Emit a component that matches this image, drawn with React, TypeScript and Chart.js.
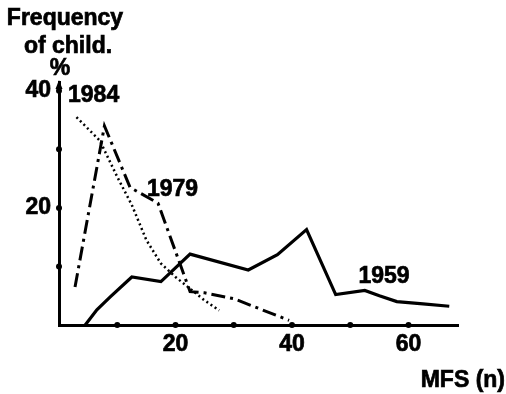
import React, { useEffect, useRef } from "react";
import { Chart, registerables } from "chart.js";

Chart.register(...registerables);

// MFS (n) values and frequency of child (%) per year
const x1959 = [4.5, 6.5, 8.8, 12.5, 17.5, 22.5, 32.5, 37.5, 42.5, 47.5, 52.5, 55, 58, 62.5, 67];
const y1959 = [0, 2.6, 4.8, 8.2, 7.4, 12.1, 9.4, 12, 16.3, 5.2, 5.9, 5.0, 4.0, 3.6, 3.2];

const x1979 = [2.75, 7.8, 12.2, 17, 22.5, 25, 30, 39.5];
const y1979 = [6.5, 34, 23.5, 20.8, 5.7, 5.5, 4.5, 0.8];

const x1984 = [3, 7, 10, 12.5, 15, 17.5, 20, 22.5, 25, 27.5];
const y1984 = [35.5, 31.5, 25.3, 20.5, 14.5, 10.5, 8.2, 6.2, 4.2, 2.5];

const xTickValues = [10, 20, 30, 40, 50, 60];
const xTickLabels = ["", "20", "", "40", "", "60"];
const yTickValues = [10, 20, 30, 40];
const yTickLabels = ["", "20", "", "40"];

const seriesLabels = ["1959", "1979", "1984"];
// label anchors in data units
const labelX = [51.4, 15.1, 1.55];
const labelY = [7.2, 22.05, 38.1];

const titleLines = ["Frequency", "of child.", "%"];
const xAxisTitle = "MFS (n)";

const FAMILY = '"Liberation Sans", Arial, sans-serif';
const FONT = 'bold 23px ' + FAMILY;

const pts = (xs: number[], ys: number[]) => xs.map((x, i) => ({ x, y: ys[i] }));

const drawText = (ctx: any, t: string, x: number, y: number) => {
  ctx.strokeText(t, x, y);
  ctx.fillText(t, x, y);
};

const decorPlugin = {
  id: "decor",
  afterDraw(chart: any) {
    const ctx = chart.ctx;
    const xs = chart.scales.x;
    const ys = chart.scales.y;
    ctx.save();
    ctx.fillStyle = "#000";
    ctx.strokeStyle = "#000";
    // tick dots
    const yBase = ys.getPixelForValue(0);
    xTickValues.forEach((v) => {
      ctx.beginPath();
      ctx.arc(xs.getPixelForValue(v), yBase, 3, 0, Math.PI * 2);
      ctx.fill();
    });
    const yAxisX = chart.chartArea.left;
    yTickValues.forEach((v) => {
      ctx.beginPath();
      ctx.arc(yAxisX, ys.getPixelForValue(v), 3, 0, Math.PI * 2);
      ctx.fill();
    });
    // arrow at top of y axis
    const top = chart.chartArea.top;
    ctx.beginPath();
    ctx.moveTo(yAxisX, top - 2);
    ctx.lineTo(yAxisX - 3.5, top + 7);
    ctx.lineTo(yAxisX + 3.5, top + 7);
    ctx.closePath();
    ctx.fill();

    ctx.font = FONT;
    ctx.lineWidth = 0.7;
    ctx.textBaseline = "alphabetic";
    // series labels
    ctx.textAlign = "left";
    seriesLabels.forEach((t, i) => {
      drawText(ctx, t, xs.getPixelForValue(labelX[i]), ys.getPixelForValue(labelY[i]));
    });
    // title
    ctx.textAlign = "center";
    drawText(ctx, titleLines[0], 65, 25);
    drawText(ctx, titleLines[1], 68, 53);
    drawText(ctx, titleLines[2], 60, 75);
    // x axis title
    ctx.textAlign = "right";
    drawText(ctx, xAxisTitle, chart.width - 1, 387);
    ctx.restore();
  },
};

export default function App() {
  const ref = useRef<HTMLCanvasElement>(null);
  useEffect(() => {
    if (!ref.current) return;
    const chart = new Chart(ref.current, {
      type: "scatter",
      data: {
        datasets: [
          {
            label: "1959",
            data: pts(x1959, y1959),
            showLine: true,
            borderColor: "#000",
            borderWidth: 3.2,
            pointRadius: 0,
            tension: 0,
          },
          {
            label: "1979",
            data: pts(x1979, y1979),
            showLine: true,
            borderColor: "#000",
            borderWidth: 3,
            borderDash: [14, 5, 3, 5],
            pointRadius: 0,
            tension: 0,
          },
          {
            label: "1984",
            data: pts(x1984, y1984),
            showLine: true,
            borderColor: "#000",
            borderWidth: 2.5,
            borderDash: [2, 3],
            pointRadius: 0,
            tension: 0,
          },
        ],
      },
      options: {
        animation: false,
        responsive: false,
        devicePixelRatio: 1,
        layout: { padding: { top: 82, right: 48, left: 0, bottom: 0 } },
        plugins: {
          legend: { display: false },
          tooltip: { enabled: false },
          title: { display: false },
        },
        scales: {
          x: {
            type: "linear",
            min: 0,
            max: 68.5,
            grid: { display: false, drawTicks: false },
            border: { display: true, color: "#000", width: 3 },
            afterBuildTicks: (s: any) => {
              s.ticks = xTickValues.map((v) => ({ value: v }));
            },
            afterFit: (s: any) => {
              s.height = 69;
            },
            ticks: {
              color: "#000",
              padding: 6,
              maxRotation: 0,
              autoSkip: false,
              textStrokeColor: "#000",
              textStrokeWidth: 0.7,
              font: { family: FAMILY, size: 23, weight: "bold" },
              callback: (v: any) => {
                const i = xTickValues.indexOf(Number(v));
                return i >= 0 ? xTickLabels[i] : "";
              },
            },
          },
          y: {
            type: "linear",
            min: 0,
            max: 41.5,
            grid: { display: false, drawTicks: false },
            border: { display: true, color: "#000", width: 3 },
            afterBuildTicks: (s: any) => {
              s.ticks = yTickValues.map((v) => ({ value: v }));
            },
            afterFit: (s: any) => {
              s.width = 59;
            },
            ticks: {
              color: "#000",
              padding: 8,
              autoSkip: false,
              textStrokeColor: "#000",
              textStrokeWidth: 0.7,
              font: { family: FAMILY, size: 23, weight: "bold" },
              callback: (v: any) => {
                const i = yTickValues.indexOf(Number(v));
                return i >= 0 ? yTickLabels[i] : "";
              },
            },
          },
        },
      },
      plugins: [decorPlugin],
    });
    return () => chart.destroy();
  }, []);
  return (
    <div style={{ position: "fixed", left: 0, top: 0, width: 506, height: 394, background: "#fff" }}>
      <canvas ref={ref} width={506} height={394} style={{ display: "block" }} />
    </div>
  );
}
